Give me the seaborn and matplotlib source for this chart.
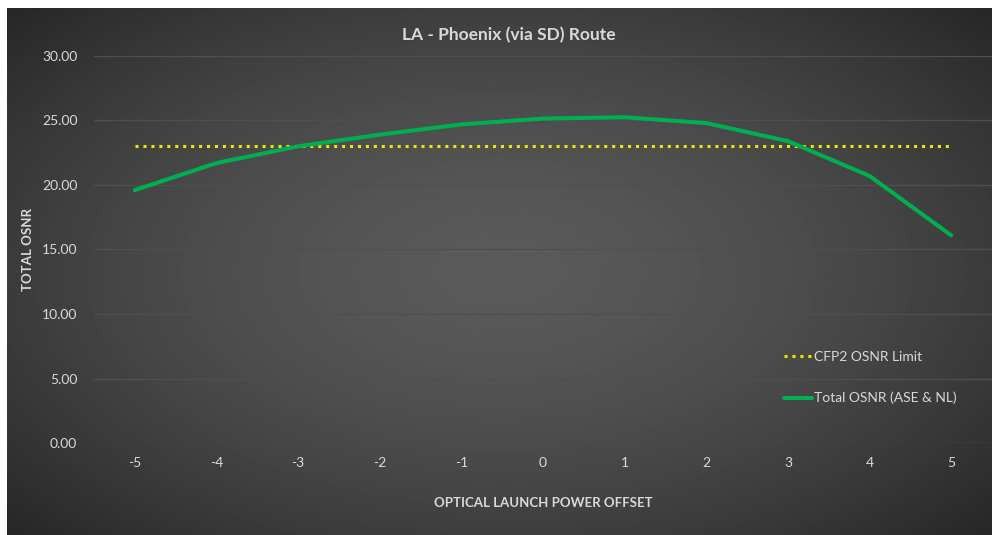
import numpy as np
import matplotlib.pyplot as plt
import pandas as pd
import seaborn as sns

# Data
offsets = [-5, -4, -3, -2, -1, 0, 1, 2, 3, 4, 5]
total_osnr = [19.6, 21.7, 23.0, 23.9, 24.7, 25.15, 25.25, 24.8, 23.4, 20.7, 16.1]
cfp2_limit = [23.0] * len(offsets)
y_ticks = [0, 5, 10, 15, 20, 25, 30]

df = pd.DataFrame({'offset': offsets, 'osnr': total_osnr, 'limit': cfp2_limit})

sns.set_style('dark')
plt.rcParams['font.family'] = ['Lato', 'DejaVu Sans']
plt.rcParams['axes.unicode_minus'] = False
txt = '#d9d9d9'

fig = plt.figure(figsize=(9.92, 5.35), dpi=100)
fig.patch.set_facecolor('white')

# radial gradient background (Excel dark style)
bg = fig.add_axes([7 / 992, 0, 985 / 992, 527 / 535])
yy, xx = np.mgrid[-1:1:300j, -1:1:560j]
r = np.sqrt((xx * 0.9) ** 2 + (yy * 0.85) ** 2)
grad = 90 - 52 * np.clip(r / 1.25, 0, 1) ** 1.6
bg.imshow(grad, cmap='gray', vmin=0, vmax=255, aspect='auto', interpolation='bilinear')
bg.set_axis_off()

ax = fig.add_axes([94 / 992, 92 / 535, 898 / 992, 387 / 535])
ax.set_facecolor('none')

sns.lineplot(data=df, x='offset', y='limit', ax=ax, color='#e8e800', lw=2.2,
             linestyle=(0, (1, 1.6)), label='CFP2 OSNR Limit')
sns.lineplot(data=df, x='offset', y='osnr', ax=ax, color='#00b050', lw=2.9,
             label='Total OSNR (ASE & NL)')

ax.set_xlim(-5.5, 5.5)
ax.set_ylim(0, 30)
ax.set_xticks(offsets)
ax.set_yticks(y_ticks)
ax.set_yticklabels([f'{v:.2f}' for v in y_ticks])
ax.tick_params(colors=txt, labelsize=10, length=0, pad=12)
ax.tick_params(axis='x', pad=10)
ax.grid(axis='y', color='#4f4f4f', lw=1)
ax.grid(axis='x', visible=False)
for s in ax.spines.values():
    s.set_visible(False)

ax.set_xlabel('OPTICAL LAUNCH POWER OFFSET', color=txt, fontsize=9.5, fontweight='bold', labelpad=20)
ax.set_ylabel('TOTAL OSNR', color=txt, fontsize=9.5, fontweight='bold', labelpad=6)
fig.text(509, 535 - 35, 'LA - Phoenix (via SD) Route', transform=None, color=txt,
         fontsize=12.5, fontweight='bold', ha='center', va='center')

leg = ax.legend(loc='center left', bbox_to_anchor=(0.755, 0.169), frameon=False,
                labelcolor=txt, fontsize=10, handlelength=2.0, handletextpad=0.15,
                labelspacing=2.1)

fig.savefig('out.png', dpi=100, facecolor=fig.get_facecolor())
